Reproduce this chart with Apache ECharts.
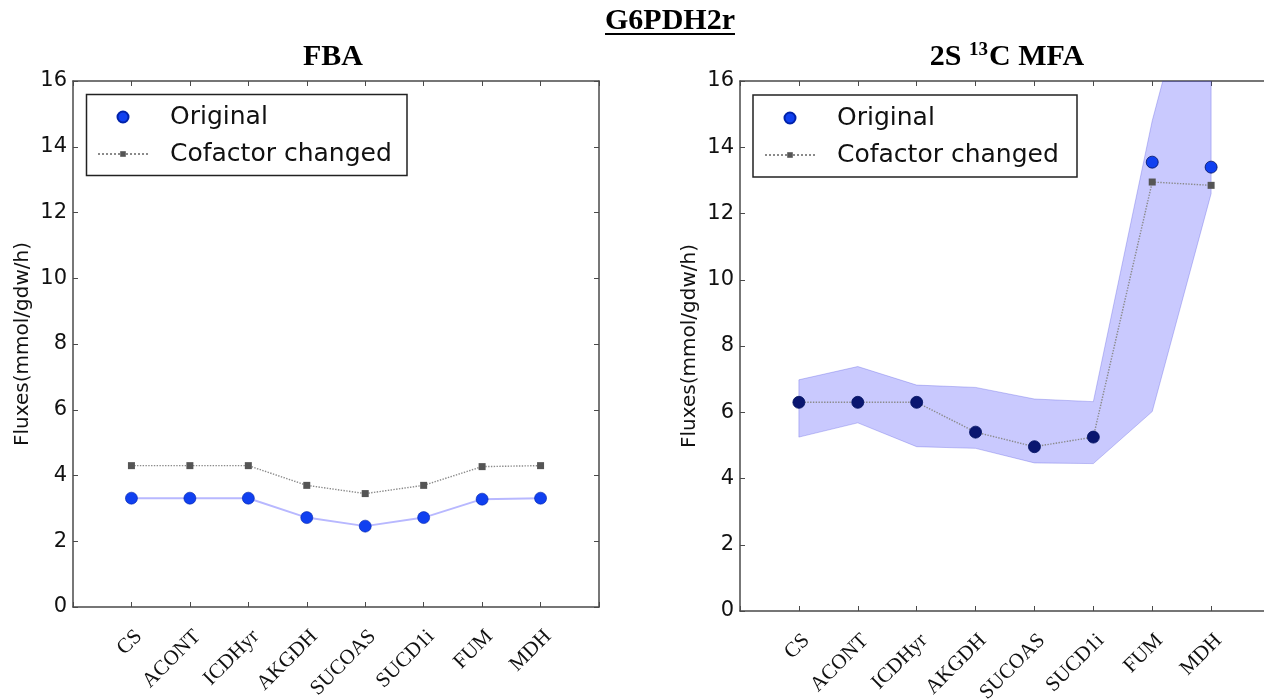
<!DOCTYPE html>
<html>
<head>
<meta charset="utf-8">
<script src="https://cdn.jsdelivr.net/npm/echarts@6/dist/echarts.min.js"></script>
<style>
html,body{margin:0;padding:0;background:#fff;}
#chart{width:1264px;height:700px;}
</style>
</head>
<body>
<div id="chart"></div>
<script>
// ---- data ----
const categories = ['CS', 'ACONT', 'ICDHyr', 'AKGDH', 'SUCOAS', 'SUCD1i', 'FUM', 'MDH'];
const fbaOriginal = [3.31, 3.31, 3.31, 2.72, 2.46, 2.72, 3.28, 3.31];
const fbaCofactor = [4.30, 4.30, 4.30, 3.70, 3.45, 3.70, 4.27, 4.30];
const mfaOriginal = [6.30, 6.30, 6.30, 5.40, 4.96, 5.25, 13.55, 13.40];
const mfaCofactor = [6.30, 6.30, 6.30, 5.40, 4.96, 5.25, 12.95, 12.85];
const mfaLower = [5.25, 5.68, 4.96, 4.91, 4.47, 4.45, 6.02, 12.60];
const mfaUpper = [6.98, 7.38, 6.82, 6.75, 6.40, 6.32, 14.80, 21.50];
const yMin = 0, yMax = 16, yStep = 2;
const mainTitle = 'G6PDH2r';
const leftTitle = 'FBA';
const yName = 'Fluxes(mmol/gdw/h)';
const seriesNames = ['Original', 'Cofactor changed'];

// ---- styles ----
const BLUE = '#1040f0';
const NAVY = '#0a1670';
const SANS = '"DejaVu Sans", sans-serif';
const SERIF = '"Liberation Serif", "Times New Roman", serif';
const FRAME = '#4a4a4a';

const pts = arr => arr.map((v, i) => [i, v]);

function xAxes(gridIndex) {
  const common = {
    type: 'value', gridIndex: gridIndex, min: -1, max: categories.length, interval: 1,
    splitLine: {show: false},
    axisLine: {show: true, onZero: false, lineStyle: {color: FRAME, width: 1.5}},
    axisTick: {show: true, inside: true, length: 5, lineStyle: {color: FRAME, width: 1}}
  };
  return [
    Object.assign({}, common, {
      position: 'bottom',
      axisLabel: {
        show: true, rotate: 45, margin: 19, verticalAlign: 'top',
        fontFamily: SERIF, fontSize: 21, color: '#111',
        formatter: v => (categories[v] !== undefined ? categories[v] : '')
      }
    }),
    Object.assign({}, common, {position: 'top', axisLabel: {show: false}})
  ];
}
function yAxes(gridIndex) {
  const common = {
    type: 'value', gridIndex: gridIndex, min: yMin, max: yMax, interval: yStep,
    splitLine: {show: false},
    axisLine: {show: true, onZero: false, lineStyle: {color: FRAME, width: 1.5}},
    axisTick: {show: true, inside: true, length: 5, lineStyle: {color: FRAME, width: 1}}
  };
  return [
    Object.assign({}, common, {
      position: 'left',
      name: yName, nameLocation: 'middle', nameGap: 40,
      nameTextStyle: {fontFamily: SANS, fontSize: 20, color: '#111'},
      axisLabel: {show: true, margin: 6, fontFamily: SANS, fontSize: 21, color: '#111'}
    }),
    Object.assign({}, common, {position: 'right', axisLabel: {show: false}})
  ];
}

const cofactorStyle = {
  type: 'line', name: seriesNames[1], symbol: 'rect', symbolSize: 7,
  itemStyle: {color: '#555'},
  lineStyle: {type: 'dotted', color: '#8a8a8a', width: 1.4},
  z: 3
};

const series = [
  // FBA
  Object.assign({}, cofactorStyle, {xAxisIndex: 0, yAxisIndex: 0, data: pts(fbaCofactor)}),
  {
    type: 'line', name: seriesNames[0], xAxisIndex: 0, yAxisIndex: 0,
    data: pts(fbaOriginal), symbol: 'circle', symbolSize: 12,
    itemStyle: {color: BLUE, borderColor: '#0022aa', borderWidth: 0.6},
    lineStyle: {color: '#b8b8ff', width: 2}, z: 4
  },
  // 2S 13C MFA confidence band
  {
    type: 'custom', name: 'band', xAxisIndex: 2, yAxisIndex: 2, z: 1,
    data: mfaLower.map((l, i) => [i, l, mfaUpper[i]]),
    encode: {x: 0, y: [1, 2]},
    renderItem: (params, api) => {
      if (params.dataIndex !== 0) return null;
      const up = mfaUpper.map((u, i) => api.coord([i, u]));
      const lo = mfaLower.map((l, i) => api.coord([i, l])).reverse();
      const cs = params.coordSys;
      return {
        type: 'polygon', shape: {points: up.concat(lo)},
        style: {fill: 'rgba(0,0,250,0.21)', stroke: 'rgba(60,60,220,0.28)', lineWidth: 1},
        clipPath: {type: 'rect', shape: {x: cs.x, y: cs.y, width: cs.width, height: cs.height}}
      };
    }
  },
  Object.assign({}, cofactorStyle, {xAxisIndex: 2, yAxisIndex: 2, data: pts(mfaCofactor)}),
  {
    type: 'scatter', name: seriesNames[0], xAxisIndex: 2, yAxisIndex: 2,
    data: pts(mfaOriginal), symbol: 'circle', symbolSize: 12,
    itemStyle: {
      opacity: 1,
      color: p => (Math.abs(mfaOriginal[p.dataIndex] - mfaCofactor[p.dataIndex]) < 0.05 ? NAVY : BLUE),
      borderColor: '#001060', borderWidth: 0.8
    },
    z: 5
  }
];

function legendPair(iconCenterX, cyOrig, cyCof, textX) {
  const txt = {fontFamily: SANS, fontSize: 25, color: '#111'};
  const origLeft = iconCenterX - 5.5;
  const cofLeft = iconCenterX - 25;
  return [
    {left: origLeft, top: cyOrig - 11.5, padding: 0, itemWidth: 11, itemHeight: 11, selectedMode: false,
     textStyle: Object.assign({padding: [0, 0, 0, textX - origLeft - 16]}, txt),
     data: [{name: seriesNames[0], icon: 'circle',
             textStyle: Object.assign({padding: [0, 0, 0, textX - origLeft - 16]}, txt)}]},
    {left: cofLeft, top: cyCof - 11.5, padding: 0, itemWidth: 50, itemHeight: 7, selectedMode: false,
     textStyle: Object.assign({padding: [0, 0, 0, textX - cofLeft - 55]}, txt),
     data: [{name: seriesNames[1]}]}
  ];
}

// underline width for the main title
const ctx = document.createElement('canvas').getContext('2d');
ctx.font = 'bold 30px "Liberation Serif"';
const titleW = ctx.measureText(mainTitle).width;

const option = {
  animation: false,
  backgroundColor: '#fff',
  grid: [
    {left: 73, top: 81, width: 526, height: 526, outerBoundsMode: 'none', containLabel: false},
    {left: 740, top: 81, right: -6, height: 530, outerBoundsMode: 'none', containLabel: false}
  ],
  xAxis: xAxes(0).concat(xAxes(1)),
  yAxis: yAxes(0).concat(yAxes(1)),
  legend: legendPair(122, 116, 153, 169).concat(legendPair(789, 117, 154, 836)),
  series: series,
  graphic: [
    {type: 'text', x: 670, y: 21, style: {text: mainTitle, font: 'bold 30px "Liberation Serif"', fill: '#000', align: 'center', verticalAlign: 'middle'}},
    {type: 'rect', shape: {x: 670 - titleW / 2, y: 33, width: titleW, height: 2}, style: {fill: '#000'}},
    {type: 'text', x: 333, y: 57, style: {text: leftTitle, font: 'bold 30px "Liberation Serif"', fill: '#000', align: 'center', verticalAlign: 'middle'}},
    {type: 'text', x: 1007, y: 57, style: {
      text: '{a|2S }{s|13}{a|C MFA}', align: 'center', verticalAlign: 'middle',
      rich: {
        a: {fontFamily: SERIF, fontWeight: 'bold', fontSize: 30, fill: '#000', color: '#000', lineHeight: 32},
        s: {fontFamily: SERIF, fontWeight: 'bold', fontSize: 19, fill: '#000', color: '#000', verticalAlign: 'top', lineHeight: 32, padding: [0, 1, 12, 0]}
      }
    }},
    {type: 'rect', shape: {x: 86.5, y: 94.5, width: 320.5, height: 81}, style: {fill: 'none', stroke: '#222', lineWidth: 1.5}, z: 10},
    {type: 'rect', shape: {x: 753, y: 95, width: 324, height: 82}, style: {fill: 'none', stroke: '#222', lineWidth: 1.5}, z: 10}
  ]
};

const chart = echarts.init(document.getElementById('chart'), null, {renderer: 'canvas'});
chart.setOption(option);
</script>
</body>
</html>
